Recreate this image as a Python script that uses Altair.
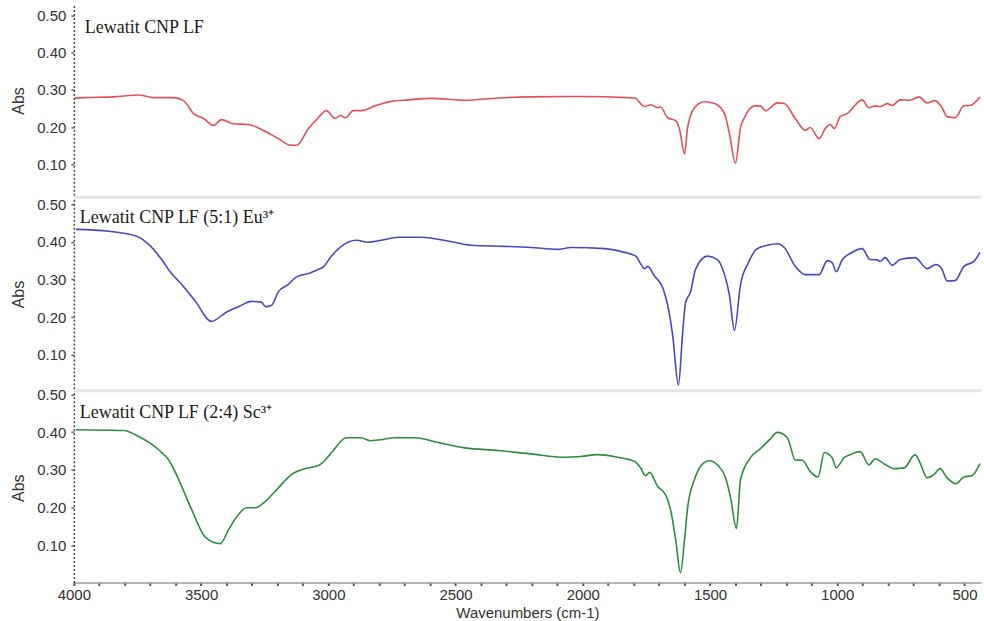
import altair as alt
import pandas as pd

# ---- Lewatit CNP LF (red) ----
wn_lf = [4000, 3961, 3843, 3745, 3686, 3608, 3569, 3529, 3490, 3451, 3420, 3373, 3314, 3255,
         3196, 3145, 3125, 3078, 3039, 3008, 2973, 2953, 2933, 2902, 2871, 2816, 2753, 2686,
         2596, 2463, 2333, 2204, 2008, 1824, 1796, 1757, 1733, 1706, 1694, 1667, 1635, 1620,
         1600, 1588, 1561, 1522, 1482, 1443, 1424, 1400, 1380, 1365, 1325, 1302, 1282, 1235,
         1208, 1165, 1125, 1106, 1071, 1047, 1027, 1012, 988, 961, 902, 875, 851, 831, 804,
         784, 753, 714, 678, 647, 616, 588, 569, 537, 502, 478, 439]
abs_lf = [0.277, 0.279, 0.281, 0.286, 0.279, 0.279, 0.271, 0.236, 0.223, 0.204, 0.220, 0.209,
          0.207, 0.191, 0.169, 0.151, 0.151, 0.196, 0.225, 0.244, 0.223, 0.231, 0.225, 0.244,
          0.244, 0.257, 0.269, 0.273, 0.277, 0.272, 0.278, 0.281, 0.282, 0.279, 0.278, 0.255,
          0.260, 0.252, 0.254, 0.225, 0.217, 0.195, 0.128, 0.199, 0.252, 0.268, 0.263, 0.236,
          0.183, 0.103, 0.199, 0.225, 0.257, 0.257, 0.244, 0.265, 0.263, 0.223, 0.191, 0.199,
          0.169, 0.196, 0.207, 0.196, 0.228, 0.236, 0.273, 0.252, 0.257, 0.255, 0.263, 0.258,
          0.273, 0.272, 0.281, 0.265, 0.271, 0.252, 0.228, 0.225, 0.257, 0.258, 0.281]

# ---- Lewatit CNP LF (5:1) Eu3+ (blue) ----
wn_eu = [3992, 3863, 3753, 3706, 3655, 3620, 3576, 3522, 3459, 3404, 3353, 3302, 3263, 3247,
         3224, 3196, 3157, 3129, 3118, 3078, 3039, 3020, 2988, 2949, 2890, 2843, 2792, 2725,
         2635, 2529, 2439, 2306, 2204, 2098, 2047, 1914, 1835, 1792, 1757, 1745, 1718, 1686,
         1667, 1647, 1624, 1608, 1596, 1576, 1557, 1510, 1471, 1443, 1424, 1404, 1380, 1349,
         1318, 1275, 1235, 1208, 1165, 1125, 1071, 1039, 1020, 1004, 980, 949, 902, 871, 843,
         831, 812, 784, 753, 694, 647, 612, 588, 569, 537, 502, 463, 439]
abs_eu = [0.433, 0.428, 0.415, 0.393, 0.353, 0.319, 0.287, 0.242, 0.189, 0.212, 0.228, 0.242,
          0.240, 0.228, 0.231, 0.268, 0.287, 0.305, 0.309, 0.316, 0.327, 0.333, 0.362, 0.388,
          0.404, 0.399, 0.404, 0.412, 0.412, 0.402, 0.391, 0.388, 0.385, 0.380, 0.385, 0.382,
          0.372, 0.362, 0.329, 0.335, 0.309, 0.279, 0.234, 0.154, 0.020, 0.154, 0.239, 0.268,
          0.327, 0.362, 0.353, 0.313, 0.260, 0.165, 0.287, 0.345, 0.380, 0.391, 0.395, 0.385,
          0.335, 0.313, 0.313, 0.350, 0.345, 0.321, 0.353, 0.369, 0.382, 0.353, 0.352, 0.348,
          0.358, 0.338, 0.353, 0.358, 0.329, 0.340, 0.327, 0.296, 0.297, 0.335, 0.348, 0.372]

# ---- Lewatit CNP LF (2:4) Sc3+ (green) ----
wn_sc = [3992, 3804, 3745, 3667, 3627, 3588, 3537, 3482, 3424, 3392, 3353, 3322, 3286, 3247,
         3196, 3145, 3090, 3039, 3027, 2988, 2929, 2871, 2835, 2804, 2737, 2659, 2569, 2463,
         2333, 2204, 2071, 2008, 1941, 1863, 1796, 1773, 1753, 1737, 1706, 1675, 1655, 1635,
         1616, 1600, 1588, 1561, 1537, 1502, 1471, 1439, 1420, 1396, 1380, 1341, 1302, 1267,
         1235, 1196, 1165, 1137, 1106, 1075, 1051, 1020, 1004, 973, 949, 910, 875, 851, 816,
         776, 737, 694, 675, 647, 620, 596, 569, 533, 502, 471, 439]
abs_sc = [0.406, 0.404, 0.388, 0.353, 0.326, 0.274, 0.194, 0.120, 0.104, 0.141, 0.181, 0.199,
          0.199, 0.216, 0.252, 0.287, 0.303, 0.311, 0.316, 0.345, 0.385, 0.385, 0.377, 0.379,
          0.385, 0.385, 0.372, 0.358, 0.351, 0.342, 0.333, 0.335, 0.340, 0.333, 0.322, 0.305,
          0.284, 0.293, 0.256, 0.234, 0.194, 0.115, 0.027, 0.115, 0.199, 0.274, 0.309, 0.324,
          0.313, 0.279, 0.229, 0.144, 0.274, 0.332, 0.356, 0.379, 0.399, 0.385, 0.326, 0.325,
          0.295, 0.281, 0.345, 0.332, 0.305, 0.332, 0.340, 0.348, 0.313, 0.329, 0.316, 0.303,
          0.305, 0.340, 0.319, 0.279, 0.287, 0.303, 0.279, 0.263, 0.281, 0.284, 0.316]

labels = ["Lewatit CNP LF", "Lewatit CNP LF (5:1) Eu³⁺", "Lewatit CNP LF (2:4) Sc³⁺"]
colors = ["#e4505a", "#4848c2", "#2e8c40"]
y_ticks = [0.10, 0.20, 0.30, 0.40, 0.50]
x_ticks = [500, 600, 700, 800, 900, 1000, 1100, 1200, 1300, 1400, 1500, 1600, 1700, 1800,
           1900, 2000, 2100, 2200, 2300, 2400, 2500, 2600, 2700, 2800, 2900, 3000, 3100,
           3200, 3300, 3400, 3500, 3600, 3700, 3800, 3900, 4000]

series = [(wn_lf, abs_lf), (wn_eu, abs_eu), (wn_sc, abs_sc)]
y_domains = [[0.017, 0.526], [0.010, 0.513], [0.001, 0.504]]
label_x = [11, 6, 6]
label_y = [22, 19, 20]

W = 909
H = 190
FONT = "Liberation Sans"

x_scale = alt.Scale(domain=[435, 4000], reverse=True, nice=False, zero=False)

panels = []
for i, ((wn, ab), col, lab) in enumerate(zip(series, colors, labels)):
    df = pd.DataFrame({"wn": wn, "abs": ab})
    last = i == len(series) - 1
    if last:
        x_axis = alt.Axis(values=x_ticks, format="d",
                          labelExpr="datum.value % 500 === 0 ? datum.label : ''",
                          labelOverlap=False, labelFlush=False, grid=False,
                          title="Wavenumbers (cm-1)", domainColor="#9a9a9a", domainWidth=1.5,
                          tickColor="#555555", tickSize=3, tickWidth=2,
                          labelFont=FONT, labelFontSize=15, labelColor="#333333", labelPadding=2,
                          titleFont=FONT, titleFontSize=15, titleFontWeight="normal",
                          titleColor="#333333", titlePadding=3)
    else:
        x_axis = None
    y_axis = alt.Axis(values=y_ticks, format=".2f", grid=False, title="Abs",
                      domainDash=[2, 2], domainColor="#444444", domainWidth=1.5,
                      tickColor="#666666", tickSize=3, tickWidth=1.5,
                      labelFont=FONT, labelFontSize=15, labelColor="#333333", labelPadding=5,
                      titleFont=FONT, titleFontSize=16, titleFontWeight="normal",
                      titleColor="#333333", titlePadding=10)
    line = alt.Chart(df).mark_line(color=col, strokeWidth=1.6, interpolate="monotone").encode(
        x=alt.X("wn:Q", scale=x_scale, axis=x_axis),
        y=alt.Y("abs:Q", scale=alt.Scale(domain=y_domains[i], nice=False, zero=False), axis=y_axis),
    )
    txt = alt.Chart(pd.DataFrame({"label": [lab]})).mark_text(
        align="left", baseline="middle", font="Liberation Serif", fontSize=18, color="#1a1a1a"
    ).encode(x=alt.value(label_x[i]), y=alt.value(label_y[i]), text="label:N")
    layers = [line, txt]
    if not last:
        sep = alt.Chart(pd.DataFrame({"s": [0]})).mark_rule(color="#e4e4e4", strokeWidth=3).encode(
            x=alt.value(0), x2=alt.value(W), y=alt.value(H + 2))
        layers.append(sep)
    panels.append(alt.layer(*layers).properties(width=W, height=H))

chart = alt.vconcat(*panels, spacing=4, bounds="flush").properties(
    padding={"left": 10, "top": 5, "right": 0, "bottom": 0},
    background="white",
).configure_view(stroke=None)

chart.save("out.html", embed_options={"renderer": "svg", "actions": False})
